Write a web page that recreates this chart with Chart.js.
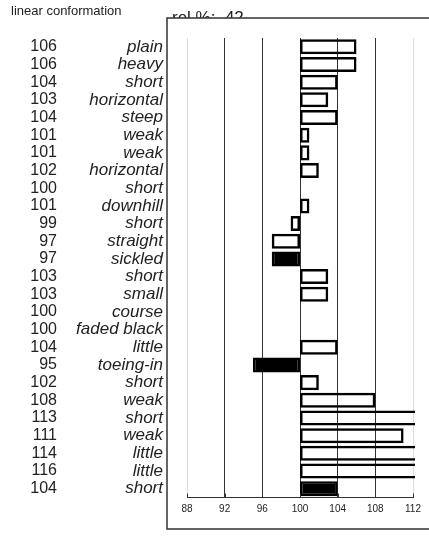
<!DOCTYPE html>
<html>
<head>
<meta charset="utf-8">
<title>linear conformation</title>
<script src="https://cdn.jsdelivr.net/npm/chart.js@4"></script>
<style>
  html, body { margin: 0; padding: 0; background: #fff; }
  #wrap { position: relative; width: 429px; height: 536px; }
</style>
</head>
<body>
<div id="wrap"><canvas id="conformation"></canvas></div>
<script>
// ---- data ----
const traits = [
    'plain', 'heavy', 'short', 'horizontal', 'steep', 'weak', 'weak',
    'horizontal', 'short', 'downhill', 'short', 'straight', 'sickled',
    'short', 'small', 'course', 'faded black', 'little', 'toeing-in',
    'short', 'weak', 'short', 'weak', 'little', 'little', 'short'
];
const relValues = [
    106, 106, 104, 103, 104, 101, 101, 102, 100, 101, 99, 97, 97,
    103, 103, 100, 100, 104, 95, 102, 108, 113, 111, 114, 116, 104
];
// rows shown as solid bars
const solidRows = [12, 18, 25];
const xTicks = [88, 92, 96, 100, 104, 108, 112];
const baseValue = 100;
const heritability = 42;

const FONT = '"Liberation Sans", Arial, sans-serif';

// frame, header and the value column next to the trait names
const framePlugin = {
    id: 'frame',
    beforeDraw(chart) {
        const ctx = chart.ctx;
        ctx.save();
        ctx.fillStyle = '#fff';
        ctx.fillRect(0, 0, chart.width, chart.height);

        ctx.fillStyle = '#222';
        ctx.textBaseline = 'middle';
        ctx.font = '13px ' + FONT;
        ctx.fillText('linear conformation', 11, 11);

        ctx.textBaseline = 'alphabetic';
        ctx.font = '17px ' + FONT;
        ctx.fillText('rel %:  ' + heritability, 172, 23);

        // box covers the lower half of the header line
        ctx.fillStyle = '#fff';
        ctx.fillRect(167, 18, chart.width, 511);
        ctx.strokeStyle = '#333';
        ctx.lineWidth = 1.5;
        ctx.beginPath();
        ctx.moveTo(chart.width + 2, 18);
        ctx.lineTo(167, 18);
        ctx.lineTo(167, 529);
        ctx.lineTo(chart.width + 2, 529);
        ctx.stroke();
        ctx.restore();
    },
    afterDraw(chart) {
        const ctx = chart.ctx;
        const y = chart.scales.y;
        const x = chart.scales.x;
        ctx.save();
        ctx.fillStyle = '#222';
        ctx.font = '16px ' + FONT;
        ctx.textAlign = 'right';
        ctx.textBaseline = 'middle';
        relValues.forEach((v, i) => {
            ctx.fillText(String(v), 57, y.getPixelForValue(i));
        });

        // short tick marks pointing up from the axis line
        const axisY = chart.chartArea.bottom;
        ctx.strokeStyle = '#333';
        ctx.lineWidth = 1;
        x.ticks.forEach(t => {
            const px = Math.round(x.getPixelForValue(t.value)) + 0.5;
            ctx.beginPath();
            ctx.moveTo(px, axisY - 4);
            ctx.lineTo(px, axisY);
            ctx.stroke();
        });
        ctx.restore();
    }
};

const ctx = document.getElementById('conformation').getContext('2d');
new Chart(ctx, {
    type: 'bar',
    data: {
        labels: traits,
        datasets: [{
            data: relValues.map(v => [baseValue, v]),
            backgroundColor: c => solidRows.includes(c.dataIndex) ? '#000' : 'rgba(255,255,255,0)',
            borderColor: '#000',
            borderWidth: 2.5,
            borderSkipped: false,
            barPercentage: 0.85,
            categoryPercentage: 1,
            clip: 2
        }]
    },
    options: {
        indexAxis: 'y',
        responsive: true,
        maintainAspectRatio: false,
        animation: false,
        events: [],
        layout: { padding: { top: 38, right: 16, bottom: 20.5, left: 0 } },
        plugins: {
            legend: { display: false },
            tooltip: { enabled: false }
        },
        scales: {
            x: {
                min: xTicks[0],
                max: xTicks[xTicks.length - 1],
                afterBuildTicks: s => { s.ticks = xTicks.map(v => ({ value: v })); },
                afterFit: s => { s.height = 18; },
                border: { display: true, color: '#333', width: 1 },
                grid: {
                    drawTicks: false,
                    color: c => (c.tick && (c.tick.value === 88 || c.tick.value === 112)) ? '#ddd' : '#333',
                    lineWidth: 1
                },
                ticks: {
                    padding: 6,
                    color: '#222',
                    font: { family: FONT, size: 10 }
                }
            },
            y: {
                afterFit: s => { s.width = 187; },
                border: { display: false },
                grid: { display: false, drawTicks: false },
                ticks: {
                    padding: 24,
                    color: '#222',
                    autoSkip: false,
                    font: { family: FONT, size: 17, style: 'italic' }
                }
            }
        }
    },
    plugins: [framePlugin]
});
</script>
</body>
</html>
